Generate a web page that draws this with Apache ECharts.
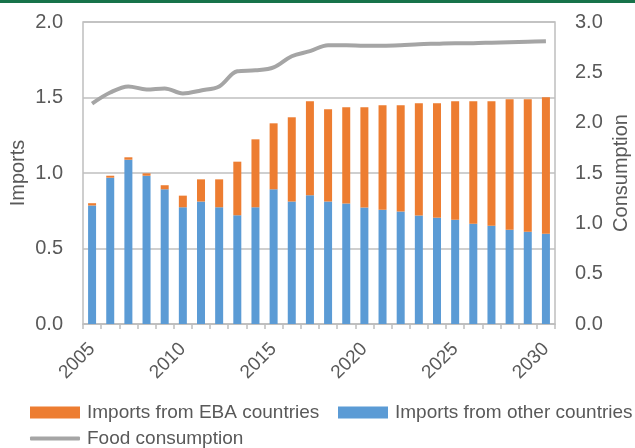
<!DOCTYPE html>
<html>
<head>
<meta charset="utf-8">
<script src="https://cdn.jsdelivr.net/npm/echarts@6/dist/echarts.min.js"></script>
<style>
html,body{margin:0;padding:0;background:#fff;}
#chart{width:635px;height:448px;}
</style>
</head>
<body>
<div id="chart"></div>
<script>
const years = ['2005','2006','2007','2008','2009','2010','2011','2012','2013','2014','2015','2016','2017','2018','2019','2020','2021','2022','2023','2024','2025','2026','2027','2028','2029','2030'];
const importsOther = [0.785,0.969,1.088,0.982,0.892,0.773,0.811,0.773,0.720,0.773,0.892,0.811,0.852,0.811,0.798,0.772,0.757,0.745,0.719,0.704,0.691,0.664,0.651,0.625,0.611,0.598];
const importsEBA = [0.015,0.013,0.016,0.016,0.027,0.077,0.147,0.185,0.355,0.450,0.437,0.558,0.623,0.611,0.637,0.663,0.691,0.703,0.743,0.758,0.784,0.811,0.824,0.863,0.877,0.903];
const foodConsumption = [2.19,2.30,2.36,2.33,2.34,2.29,2.32,2.36,2.51,2.52,2.55,2.66,2.71,2.77,2.77,2.765,2.765,2.77,2.78,2.785,2.79,2.79,2.795,2.80,2.805,2.81];
const leftTicks = [0, 0.5, 1.0, 1.5, 2.0];
const rightTicks = [0, 0.5, 1.0, 1.5, 2.0, 2.5, 3.0];

const txt = '#595959';
const gridCol = '#bfbfbf';
const fnt = '"Liberation Sans", Arial, sans-serif';
const legText = {color:txt, fontSize:19, fontFamily:fnt, padding:[0,0,0,2]};

const chart = echarts.init(document.getElementById('chart'), null, {renderer:'canvas'});
chart.setOption({
  animation: false,
  textStyle: {fontFamily: fnt},
  graphic: [{type:'rect', left:0, top:0, shape:{width:635, height:3}, style:{fill:'#17734a'}}],
  grid: {left:83, right:80, top:22, bottom:124, show:true, borderColor:gridCol, borderWidth:1.5,
         containLabel:false, outerBoundsMode:'none'},
  legend: [
    {data:['Imports from EBA countries'], left:30, top:403, padding:0, itemWidth:50, itemHeight:12, icon:'rect', textStyle:legText},
    {data:['Imports from other countries'], left:338, top:403, padding:0, itemWidth:50, itemHeight:12, icon:'rect', textStyle:legText},
    {data:['Food consumption'], left:30, top:429, padding:0, itemWidth:50, itemHeight:4, icon:'roundRect', textStyle:legText}
  ],
  xAxis: {
    type:'category', data:years, boundaryGap:true,
    axisLine:{lineStyle:{color:gridCol, width:1.5}},
    axisTick:{show:true, interval:0, length:5, lineStyle:{color:gridCol, width:1.5}},
    axisLabel:{interval:4, rotate:45, margin:22, color:txt, fontSize:19, fontFamily:fnt}
  },
  yAxis: [
    {type:'value', min:leftTicks[0], max:leftTicks[leftTicks.length-1], interval:0.5,
     name:'Imports', nameLocation:'middle', nameGap:55, nameRotate:90, nameMoveOverlap:false,
     nameTextStyle:{color:txt, fontSize:20, fontFamily:fnt},
     axisLine:{show:false}, axisTick:{show:false},
     splitLine:{lineStyle:{color:gridCol, width:1.5}},
     axisLabel:{margin:20, color:txt, fontSize:20, fontFamily:fnt, formatter:v=>v.toFixed(1)}},
    {type:'value', min:rightTicks[0], max:rightTicks[rightTicks.length-1], interval:0.5, position:'right',
     name:'Consumption', nameLocation:'middle', nameGap:56, nameRotate:90, nameMoveOverlap:false,
     nameTextStyle:{color:txt, fontSize:20, fontFamily:fnt},
     axisLine:{show:false}, axisTick:{show:false}, splitLine:{show:false},
     axisLabel:{margin:20, color:txt, fontSize:20, fontFamily:fnt, formatter:v=>v.toFixed(1)}}
  ],
  series: [
    {name:'Imports from other countries', type:'bar', stack:'imp', data:importsOther, barWidth:8,
     itemStyle:{color:'#5B9BD5'}},
    {name:'Imports from EBA countries', type:'bar', stack:'imp', data:importsEBA, barWidth:8,
     itemStyle:{color:'#ED7D31'}},
    {name:'Food consumption', type:'line', yAxisIndex:1, data:foodConsumption, smooth:0.35,
     symbol:'none', lineStyle:{color:'#A5A5A5', width:4}, itemStyle:{color:'#A5A5A5'}}
  ]
});
</script>
</body>
</html>
